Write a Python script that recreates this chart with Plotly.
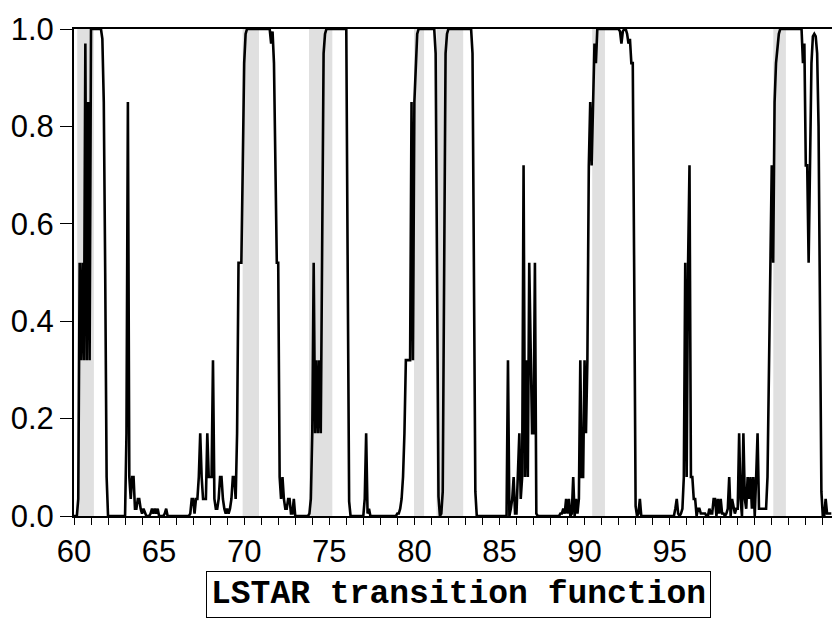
import plotly.graph_objects as go

# Monthly LSTAR transition function values, 1960:01 onwards
tf_1960s = [
    0.0, 0.0, 0.0, 0.035, 0.52, 0.32, 0.52, 0.32, 0.97, 0.32, 0.85, 0.32,      # 1960
    1.0, 1.0, 1.0, 1.0, 1.0, 1.0, 1.0, 1.0, 0.98, 0.85, 0.5, 0.08,             # 1961
    0.0, 0.0, 0.0, 0.0, 0.0, 0.0, 0.0, 0.0, 0.0, 0.0, 0.0, 0.0,                # 1962
    0.0, 0.17, 0.85, 0.08, 0.035, 0.08, 0.08, 0.015, 0.015, 0.035, 0.035, 0.015,  # 1963
    0.005, 0.015, 0.005, 0.0, 0.0, 0.0, 0.005, 0.015, 0.005, 0.015, 0.005, 0.015,  # 1964
    0.0, 0.0, 0.0, 0.0, 0.005, 0.015, 0.0, 0.0, 0.0, 0.0, 0.0, 0.0,            # 1965
    0.0, 0.0, 0.0, 0.0, 0.0, 0.0, 0.0, 0.0, 0.0, 0.0, 0.005, 0.035,            # 1966
    0.035, 0.005, 0.035, 0.035, 0.08, 0.17, 0.08, 0.035, 0.035, 0.035, 0.17, 0.08,  # 1967
    0.08, 0.08, 0.32, 0.035, 0.015, 0.015, 0.035, 0.08, 0.08, 0.035, 0.015, 0.005,  # 1968
    0.015, 0.005, 0.015, 0.035, 0.08, 0.08, 0.035, 0.17, 0.52, 0.52, 0.52, 0.72,    # 1969
]
tf_1970s = [
    0.93, 0.99, 1.0, 1.0, 1.0, 1.0, 1.0, 1.0, 1.0, 1.0, 1.0, 1.0,              # 1970
    1.0, 1.0, 1.0, 1.0, 1.0, 1.0, 1.0, 0.97, 0.995, 0.93, 0.72, 0.52,          # 1971
    0.52, 0.08, 0.035, 0.08, 0.035, 0.015, 0.015, 0.035, 0.035, 0.005, 0.005, 0.035,  # 1972
    0.0, 0.0, 0.0, 0.0, 0.0, 0.0, 0.0, 0.0, 0.0, 0.0, 0.005, 0.035,            # 1973
    0.17, 0.52, 0.17, 0.32, 0.17, 0.32, 0.17, 0.7, 0.95, 0.99, 1.0, 1.0,       # 1974
    1.0, 1.0, 1.0, 1.0, 1.0, 1.0, 1.0, 1.0, 1.0, 1.0, 1.0, 1.0,                # 1975
    1.0, 0.5, 0.03, 0.0, 0.0, 0.0, 0.0, 0.0, 0.0, 0.0, 0.0, 0.0,               # 1976
    0.0, 0.035, 0.17, 0.005, 0.015, 0.0, 0.0, 0.0, 0.0, 0.0, 0.0, 0.0,         # 1977
    0.0, 0.0, 0.0, 0.0, 0.0, 0.0, 0.0, 0.0, 0.0, 0.0, 0.0, 0.0,                # 1978
    0.005, 0.005, 0.015, 0.035, 0.08, 0.17, 0.32, 0.32, 0.32, 0.32, 0.85, 0.32,  # 1979
]
tf_1980s = [
    0.85, 0.93, 0.99, 1.0, 1.0, 1.0, 1.0, 1.0, 1.0, 1.0, 1.0, 1.0,             # 1980
    1.0, 1.0, 1.0, 0.95, 0.4, 0.04, 0.0, 0.005, 0.05, 0.6, 0.95, 0.99,         # 1981
    1.0, 1.0, 1.0, 1.0, 1.0, 1.0, 1.0, 1.0, 1.0, 1.0, 1.0, 1.0,                # 1982
    1.0, 1.0, 1.0, 1.0, 1.0, 0.95, 0.5, 0.05, 0.0, 0.0, 0.0, 0.0,              # 1983
    0.0, 0.0, 0.0, 0.0, 0.0, 0.0, 0.0, 0.0, 0.0, 0.0, 0.0, 0.0,                # 1984
    0.0, 0.0, 0.0, 0.0, 0.0, 0.0, 0.32, 0.0, 0.015, 0.035, 0.08, 0.005,        # 1985
    0.005, 0.08, 0.17, 0.035, 0.08, 0.72, 0.08, 0.32, 0.08, 0.52, 0.32, 0.17,  # 1986
    0.17, 0.52, 0.005, 0.0, 0.0, 0.0, 0.0, 0.0, 0.0, 0.0, 0.0, 0.0,            # 1987
    0.0, 0.0, 0.0, 0.0, 0.0, 0.0, 0.0, 0.005, 0.005, 0.015, 0.005, 0.035,      # 1988
    0.005, 0.035, 0.0, 0.005, 0.08, 0.0, 0.035, 0.005, 0.035, 0.32, 0.08, 0.08,  # 1989
]
tf_1990s = [
    0.32, 0.17, 0.32, 0.72, 0.85, 0.72, 0.85, 0.97, 0.93, 1.0, 1.0, 1.0,       # 1990
    1.0, 1.0, 1.0, 1.0, 1.0, 1.0, 1.0, 1.0, 1.0, 1.0, 1.0, 1.0,                # 1991
    1.0, 0.995, 0.97, 0.995, 1.0, 1.0, 0.99, 0.97, 0.98, 0.93, 0.93, 0.5,      # 1992
    0.02, 0.0, 0.005, 0.035, 0.0, 0.0, 0.0, 0.0, 0.0, 0.0, 0.0, 0.0,           # 1993
    0.0, 0.0, 0.0, 0.0, 0.0, 0.0, 0.0, 0.0, 0.0, 0.0, 0.0, 0.0,                # 1994
    0.0, 0.0, 0.0, 0.0, 0.015, 0.035, 0.005, 0.0, 0.005, 0.015, 0.08, 0.52,    # 1995
    0.08, 0.52, 0.72, 0.08, 0.08, 0.035, 0.035, 0.0, 0.015, 0.015, 0.005, 0.005,  # 1996
    0.005, 0.005, 0.0, 0.0, 0.015, 0.005, 0.005, 0.035, 0.035, 0.0, 0.035, 0.005,  # 1997
    0.035, 0.005, 0.005, 0.0, 0.005, 0.015, 0.08, 0.0, 0.035, 0.015, 0.005, 0.015,  # 1998
    0.015, 0.17, 0.035, 0.0, 0.17, 0.035, 0.015, 0.08, 0.035, 0.08, 0.015, 0.08,  # 1999
]
tf_2000s = [
    0.0, 0.08, 0.17, 0.015, 0.015, 0.015, 0.015, 0.015, 0.015, 0.08, 0.32, 0.52,  # 2000
    0.72, 0.52, 0.85, 0.93, 0.97, 0.99, 1.0, 1.0, 1.0, 1.0, 1.0, 1.0,          # 2001
    1.0, 1.0, 1.0, 1.0, 1.0, 1.0, 1.0, 1.0, 1.0, 1.0, 0.93, 0.97,              # 2002
    0.72, 0.72, 0.52, 0.75, 0.93, 0.985, 0.99, 0.985, 0.95, 0.8, 0.4, 0.05,    # 2003
    0.0, 0.0, 0.035, 0.005, 0.005, 0.005, 0.005,                               # 2004
]

# Shaded recession periods (decimal years)
rec_start = [1960.19, 1969.91, 1973.81, 1979.98, 1981.30, 1990.45, 2001.09]
rec_end = [1961.17, 1970.87, 1975.18, 1980.57, 1982.87, 1991.20, 2001.83]

# Axis ticks
x_tick_years = list(range(1960, 2005))
x_label_map = {1960: "60", 1965: "65", 1970: "70", 1975: "75", 1980: "80",
               1985: "85", 1990: "90", 1995: "95", 2000: "00"}
y_tick_vals = [0.0, 0.2, 0.4, 0.6, 0.8, 1.0]
y_tick_text = ["0.0", "0.2", "0.4", "0.6", "0.8", "1.0"]

title_text = "LSTAR transition function"

values = tf_1960s + tf_1970s + tf_1980s + tf_1990s + tf_2000s
dates = [1960 + i / 12.0 for i in range(len(values))]

fig = go.Figure()
fig.add_trace(go.Scatter(x=dates, y=values, mode="lines",
                         line=dict(color="black", width=2.6),
                         hoverinfo="skip"))

for s, e in zip(rec_start, rec_end):
    fig.add_shape(type="rect", xref="x", yref="paper", x0=s, x1=e, y0=0, y1=1,
                  fillcolor="#e0e0e0", line=dict(width=0), layer="below")

fig.add_annotation(text="<b>" + title_text + "</b>", xref="paper", yref="paper",
                   x=0.507, y=-0.162, xanchor="center", yanchor="middle",
                   showarrow=False,
                   font=dict(family="Liberation Mono", size=33, color="black"),
                   bordercolor="black", borderwidth=1, borderpad=4, bgcolor="white")

tick_font = dict(family="Liberation Sans", size=31, color="black")

fig.update_layout(
    width=832, height=624,
    margin=dict(l=74, r=0, t=29, b=108),
    plot_bgcolor="white", paper_bgcolor="white",
    showlegend=False,
    font=tick_font,
)
fig.update_xaxes(
    range=[1960.0, 2004.54],
    tickmode="array", tickvals=x_tick_years,
    ticktext=[x_label_map.get(y, "") for y in x_tick_years],
    ticks="outside", ticklen=7, tickwidth=1, tickcolor="black",
    showline=True, linewidth=2, linecolor="black", mirror=True,
    showgrid=False, zeroline=False,
    tickfont=tick_font,
)
fig.update_yaxes(
    range=[0, 1],
    tickmode="array", tickvals=y_tick_vals, ticktext=y_tick_text,
    ticks="outside", ticklen=12, tickwidth=1, tickcolor="black",
    showline=True, linewidth=2, linecolor="black", mirror=False,
    showgrid=False, zeroline=False,
    tickfont=tick_font,
)

fig.write_html("out.html")
